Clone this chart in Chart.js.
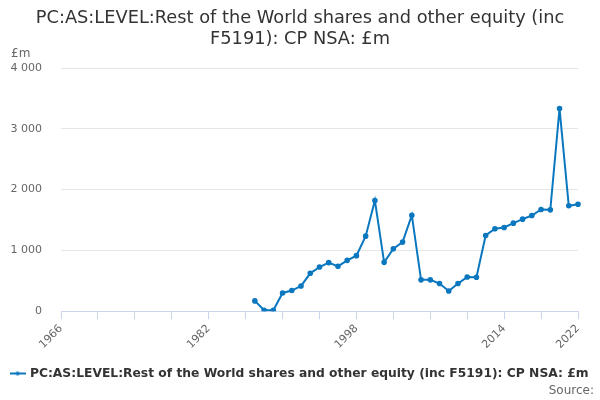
<!DOCTYPE html>
<html>
<head>
<meta charset="utf-8">
<script src="https://cdn.jsdelivr.net/npm/chart.js@4"></script>
<style>
  html, body { margin: 0; padding: 0; background: #fff; }
  #wrap { width: 600px; height: 400px; }
</style>
</head>
<body>
<div id="wrap"><canvas id="equityChart"></canvas></div>
<script>
const years = [];
for (let y = 1966; y <= 2022; y++) years.push(String(y));

const shownYears = ['1966', '1982', '1998', '2014', '2022'];

// values from 1987 to 2022, earlier years have no data
const firstYear = 1987;
const equityValues = [
    169, 16, 16, 300, 339, 415, 623, 726, 798, 738,
    836, 913, 1234, 1820, 803, 1027, 1136, 1579, 515, 515,
    455, 333, 454, 562, 557, 1246, 1355, 1377, 1448, 1514,
    1574, 1672, 1667, 3333, 1733, 1759
];

const seriesName = 'PC:AS:LEVEL:Rest of the World shares and other equity (inc F5191): CP NSA: £m';
const lineColour = '#0a77bf';

document.addEventListener('DOMContentLoaded', function () {
    const padded = years.map(function (y) {
        const i = Number(y) - firstYear;
        return i >= 0 ? equityValues[i] : null;
    });

    // legend marker: short line with a dot in the middle
    const marker = document.createElement('canvas');
    marker.width = 16;
    marker.height = 10;
    const mctx = marker.getContext('2d');
    mctx.strokeStyle = lineColour;
    mctx.lineWidth = 2;
    mctx.beginPath();
    mctx.moveTo(0, 5);
    mctx.lineTo(16, 5);
    mctx.stroke();
    mctx.fillStyle = lineColour;
    mctx.beginPath();
    mctx.arc(8, 5, 2, 0, Math.PI * 2);
    mctx.fill();

    const unitLabel = {
        id: 'unitLabel',
        afterDraw(chart) {
            const c = chart.ctx;
            c.save();
            c.font = '12px "DejaVu Sans"';
            c.fillStyle = '#666';
            c.textAlign = 'left';
            c.textBaseline = 'bottom';
            c.fillText('£m', 11, chart.chartArea.top - 8);
            c.restore();
        }
    };

    const ctx = document.getElementById('equityChart').getContext('2d');
    new Chart(ctx, {
        type: 'line',
        data: {
            labels: years,
            datasets: [{
                label: seriesName,
                data: padded,
                borderColor: lineColour,
                backgroundColor: lineColour,
                borderWidth: 2,
                pointRadius: 1.8,
                pointHoverRadius: 3,
                tension: 0,
                pointStyle: 'circle'
            }]
        },
        options: {
            responsive: true,
            maintainAspectRatio: false,
            animation: false,
            layout: { padding: { left: 6, right: 6, top: 6, bottom: 2 } },
            plugins: {
                title: {
                    display: true,
                    text: ['PC:AS:LEVEL:Rest of the World shares and other equity (inc', 'F5191): CP NSA: £m'],
                    color: '#333',
                    font: { family: '"DejaVu Sans"', size: 17.8, weight: 'normal', lineHeight: 1.18 },
                    padding: { top: 2, bottom: 18 }
                },
                subtitle: {
                    display: true,
                    position: 'bottom',
                    align: 'end',
                    text: 'Source:',
                    color: '#666',
                    font: { family: '"DejaVu Sans"', size: 12 },
                    padding: { top: -6, bottom: 0 }
                },
                legend: {
                    position: 'bottom',
                    labels: {
                        usePointStyle: true,
                        pointStyle: marker,
                        color: '#333',
                        font: { family: '"DejaVu Sans"', size: 12.3, weight: 'bold' },
                        padding: 0
                    }
                },
                tooltip: { enabled: false }
            },
            scales: {
                x: {
                    offset: false,
                    afterFit: function (s) { s.height += 13; },
                    grid: {
                        drawOnChartArea: false,
                        drawTicks: true,
                        tickLength: 8,
                        color: function (c) { return c.index % 4 === 0 ? '#ccd6eb' : 'rgba(0,0,0,0)'; }
                    },
                    border: { color: '#ccd6eb' },
                    ticks: {
                        autoSkip: false,
                        maxRotation: 45,
                        minRotation: 45,
                        color: '#666',
                        font: { family: '"DejaVu Sans"', size: 11 },
                        callback: function (v) {
                            const lab = this.getLabelForValue(v);
                            return shownYears.includes(lab) ? lab : '';
                        }
                    }
                },
                y: {
                    min: 0,
                    max: 4000,
                    afterFit: function (s) { s.width = 55; },
                    grid: { color: '#e6e6e6', drawTicks: false },
                    border: { display: false },
                    ticks: {
                        stepSize: 1000,
                        padding: 19,
                        color: '#666',
                        font: { family: '"DejaVu Sans"', size: 11 },
                        callback: function (v) {
                            return String(v).replace(/\B(?=(\d{3})+(?!\d))/g, ' ');
                        }
                    }
                },
                yRight: {
                    position: 'right',
                    afterFit: function (s) { s.width = 16; },
                    grid: { drawOnChartArea: false, drawTicks: false },
                    border: { display: false },
                    ticks: { display: false }
                }
            }
        },
        plugins: [unitLabel]
    });
});
</script>
</body>
</html>
